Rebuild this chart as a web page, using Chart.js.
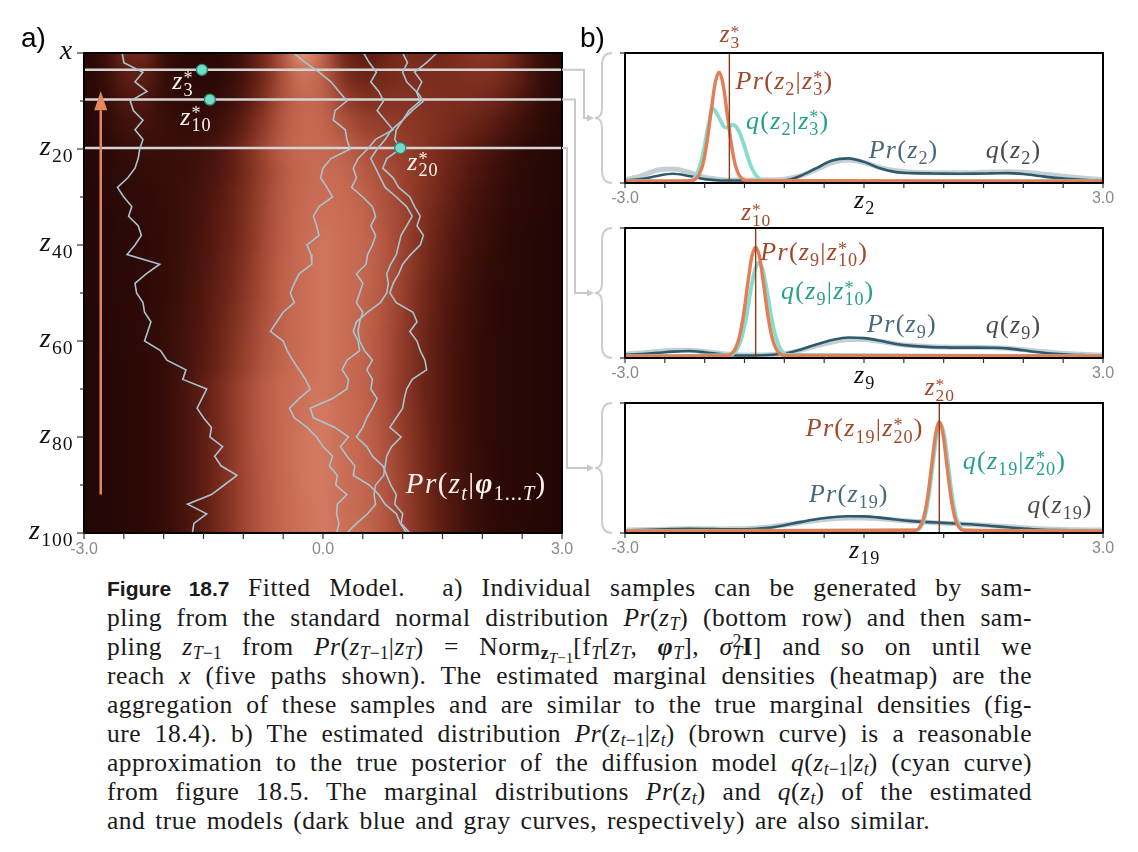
<!DOCTYPE html>
<html>
<head>
<meta charset="utf-8">
<script src="https://cdn.jsdelivr.net/npm/chart.js@4.4.1/dist/chart.umd.min.js"></script>
<style>
  body { margin: 0; background: #fff; }
  #page { position: relative; width: 1138px; height: 852px; overflow: hidden; background: #fff; }
  #page canvas { position: absolute; }
  #links { position: absolute; left: 0; top: 0; pointer-events: none; }
  #caption { position: absolute; left: 107px; top: 573px; width: 925px; font-family: "Liberation Serif", serif;
             font-size: 25.5px; letter-spacing: 0.5px; line-height: 29px; color: #1a1a1a; }
  #caption div { text-align: justify; text-align-last: justify; }
  #caption div.end { text-align-last: left; word-spacing: 3px; }
  #caption sub { font-size: 0.7em; vertical-align: -0.25em; line-height: 0; letter-spacing: 0; }
  #caption sup { font-size: 0.7em; vertical-align: 0.45em; line-height: 0; letter-spacing: 0; }
  #caption sub sub { font-size: 0.85em; }
  #caption sub.under { margin-left: -0.5em; }
  #caption .fig { font-family: "Liberation Sans", sans-serif; font-weight: bold; font-size: 21px; letter-spacing: 0; }
</style>
</head>
<body>
<div id="page">
  <canvas id="heat" width="580" height="570" style="left:0;top:0;width:580px;height:570px"></canvas>
  <canvas id="b1" width="558" height="215" style="left:580px;top:0;width:558px;height:215px"></canvas>
  <canvas id="b2" width="558" height="195" style="left:580px;top:195px;width:558px;height:195px"></canvas>
  <canvas id="b3" width="558" height="200" style="left:580px;top:370px;width:558px;height:200px"></canvas>
  <svg id="links" width="1138" height="570"></svg>
  <div id="caption">
    <div><span class="fig">Figure 18.7</span> Fitted Model.&nbsp; a) Individual samples can be generated by sam-</div>
    <div>pling from the standard normal distribution <i>Pr</i>(<i>z<sub>T</sub></i>) (bottom row) and then sam-</div>
    <div>pling <i>z</i><sub><i>T</i>−1</sub> from <i>Pr</i>(<i>z</i><sub><i>T</i>−1</sub>|<i>z<sub>T</sub></i>) = Norm<sub><b>z</b><sub><i>T</i>−1</sub></sub>[f<sub><i>T</i></sub>[<i>z<sub>T</sub></i>, <b><i>φ</i></b><sub><i>T</i></sub>], <i>σ</i><sup>2</sup><sub class="under"><i>T</i></sub><b>I</b>] and so on until we</div>
    <div>reach <i>x</i> (five paths shown). The estimated marginal densities (heatmap) are the</div>
    <div>aggregation of these samples and are similar to the true marginal densities (fig-</div>
    <div>ure 18.4). b) The estimated distribution <i>Pr</i>(<i>z</i><sub><i>t</i>−1</sub>|<i>z<sub>t</sub></i>) (brown curve) is a reasonable</div>
    <div>approximation to the true posterior of the diffusion model <i>q</i>(<i>z</i><sub><i>t</i>−1</sub>|<i>z<sub>t</sub></i>) (cyan curve)</div>
    <div>from figure 18.5. The marginal distributions <i>Pr</i>(<i>z<sub>t</sub></i>) and <i>q</i>(<i>z<sub>t</sub></i>) of the estimated</div>
    <div class="end">and true models (dark blue and gray curves, respectively) are also similar.</div>
  </div>
</div>
<script>
const SERIF = '"Liberation Serif", "DejaVu Serif", serif';
const SANS = '"Liberation Sans", Arial, sans-serif';

// ---------- panel a: heatmap of Pr(z_t) ----------
const heatX = [-3, -2.75, -2.5, -2.25, -2, -1.75, -1.5, -1.25, -1, -0.75, -0.5, -0.25, 0,
               0.25, 0.5, 0.75, 1, 1.25, 1.5, 1.75, 2, 2.25, 2.5, 2.75, 3];
const heatZ = [0, 5, 10, 15, 20, 25, 30, 35, 40, 45, 50, 55, 60, 65, 70, 75, 80, 85, 90, 95, 100];
const heatRows = [
  [0.06,0.16,0.38,0.40,0.18,0.08,0.07,0.10,0.22,0.40,0.68,0.98,0.78,0.40,0.30,0.36,0.44,0.42,0.40,0.45,0.50,0.46,0.32,0.16,0.06],
  [0.06,0.15,0.32,0.33,0.16,0.08,0.08,0.11,0.22,0.40,0.66,0.90,0.76,0.46,0.36,0.40,0.44,0.44,0.42,0.44,0.46,0.42,0.30,0.15,0.06],
  [0.05,0.13,0.26,0.27,0.15,0.10,0.10,0.14,0.26,0.44,0.68,0.84,0.77,0.56,0.46,0.46,0.47,0.46,0.44,0.43,0.41,0.35,0.25,0.13,0.05],
  [0.05,0.11,0.20,0.22,0.17,0.14,0.15,0.20,0.33,0.51,0.71,0.83,0.80,0.66,0.56,0.53,0.51,0.48,0.44,0.39,0.34,0.27,0.18,0.10,0.05],
  [0.05,0.09,0.15,0.17,0.17,0.17,0.20,0.27,0.40,0.57,0.74,0.84,0.83,0.75,0.65,0.59,0.54,0.48,0.41,0.34,0.27,0.19,0.12,0.07,0.04],
  [0.04,0.08,0.12,0.15,0.16,0.17,0.21,0.28,0.40,0.55,0.71,0.82,0.86,0.82,0.72,0.63,0.56,0.48,0.40,0.31,0.23,0.16,0.10,0.06,0.04],
  [0.04,0.07,0.10,0.13,0.15,0.18,0.23,0.31,0.42,0.57,0.72,0.83,0.88,0.85,0.76,0.66,0.57,0.47,0.38,0.28,0.20,0.14,0.09,0.06,0.04],
  [0.04,0.06,0.09,0.12,0.14,0.18,0.24,0.32,0.43,0.58,0.73,0.84,0.89,0.87,0.79,0.68,0.57,0.45,0.35,0.26,0.18,0.12,0.08,0.05,0.04],
  [0.04,0.06,0.08,0.11,0.14,0.18,0.25,0.33,0.44,0.59,0.74,0.85,0.90,0.88,0.81,0.70,0.57,0.44,0.33,0.24,0.17,0.11,0.07,0.05,0.04],
  [0.04,0.06,0.08,0.11,0.14,0.19,0.26,0.35,0.46,0.61,0.75,0.86,0.90,0.88,0.81,0.70,0.56,0.43,0.32,0.22,0.15,0.10,0.07,0.05,0.04],
  [0.04,0.06,0.08,0.11,0.14,0.19,0.27,0.36,0.48,0.62,0.76,0.86,0.90,0.88,0.80,0.69,0.55,0.41,0.30,0.21,0.14,0.09,0.06,0.05,0.04],
  [0.04,0.05,0.08,0.11,0.15,0.20,0.28,0.38,0.50,0.64,0.77,0.87,0.90,0.87,0.79,0.67,0.53,0.40,0.29,0.20,0.14,0.09,0.06,0.05,0.04],
  [0.04,0.05,0.08,0.11,0.15,0.21,0.29,0.40,0.52,0.66,0.78,0.87,0.90,0.87,0.78,0.66,0.52,0.39,0.28,0.20,0.13,0.09,0.06,0.05,0.04],
  [0.04,0.05,0.07,0.10,0.15,0.21,0.30,0.41,0.54,0.67,0.79,0.88,0.90,0.87,0.78,0.66,0.52,0.39,0.28,0.19,0.13,0.09,0.06,0.05,0.04],
  [0.04,0.05,0.07,0.10,0.15,0.22,0.33,0.45,0.58,0.72,0.83,0.89,0.90,0.86,0.78,0.65,0.51,0.38,0.28,0.19,0.13,0.09,0.06,0.05,0.04],
  [0.04,0.05,0.07,0.10,0.15,0.22,0.32,0.45,0.58,0.72,0.83,0.89,0.91,0.87,0.79,0.66,0.52,0.39,0.28,0.19,0.13,0.09,0.06,0.05,0.04],
  [0.04,0.05,0.07,0.10,0.15,0.22,0.32,0.44,0.58,0.72,0.83,0.90,0.91,0.87,0.79,0.67,0.53,0.40,0.29,0.20,0.13,0.09,0.06,0.05,0.04],
  [0.04,0.05,0.07,0.10,0.15,0.22,0.32,0.44,0.58,0.71,0.83,0.90,0.91,0.88,0.80,0.68,0.54,0.41,0.29,0.20,0.14,0.09,0.06,0.05,0.04],
  [0.04,0.05,0.07,0.10,0.15,0.22,0.32,0.44,0.57,0.71,0.82,0.90,0.91,0.88,0.80,0.69,0.55,0.42,0.30,0.21,0.14,0.09,0.06,0.05,0.04],
  [0.04,0.05,0.07,0.10,0.15,0.22,0.32,0.44,0.57,0.70,0.82,0.89,0.91,0.88,0.81,0.70,0.56,0.43,0.31,0.21,0.14,0.09,0.06,0.05,0.04],
  [0.04,0.05,0.07,0.10,0.15,0.22,0.32,0.44,0.57,0.70,0.81,0.89,0.91,0.89,0.81,0.70,0.57,0.44,0.32,0.22,0.15,0.10,0.07,0.05,0.04]
];

// five sampled paths, x read at every second step
const zPath = [0,2,4,6,8,10,12,14,16,18,20,22,24,26,28,30,32,34,36,38,40,42,44,46,48,50,
               52,54,56,58,60,62,64,66,68,70,72,74,76,78,80,82,84,86,88,90,92,94,96,98,100];
const pathA = [-2.52,-2.50,-2.26,-2.36,-2.21,-2.42,-2.38,-2.26,-2.36,-2.26,-2.30,-2.32,-2.36,-2.45,-2.58,-2.50,-2.40,
               -2.44,-2.32,-2.28,-2.36,-2.46,-2.05,-2.22,-2.36,-2.34,-2.26,-2.24,-2.16,-2.20,-2.24,-2.04,-1.96,-1.72,
               -1.76,-1.46,-1.52,-1.58,-1.50,-1.40,-1.42,-1.26,-1.36,-1.28,-1.08,-1.24,-1.40,-1.70,-1.46,-1.62,-1.64];
const pathB = [-0.37,-0.22,-0.05,0.10,0.20,0.30,0.15,0.13,0.28,0.30,0.34,0.10,0.00,-0.03,0.05,0.12,-0.05,
               -0.12,-0.08,-0.05,-0.20,-0.15,-0.14,-0.30,-0.36,-0.41,-0.36,-0.50,-0.58,-0.66,-0.50,-0.45,-0.38,-0.30,
               -0.22,-0.16,-0.30,-0.42,-0.36,-0.20,-0.08,0.00,0.12,0.08,0.18,0.16,0.30,0.18,0.17,0.20,0.17];
const pathC = [0.51,0.58,0.67,0.60,0.70,0.76,0.68,0.78,0.88,0.66,0.56,0.44,0.38,0.42,0.36,0.50,0.62,
               0.66,0.60,0.66,0.62,0.56,0.54,0.42,0.50,0.46,0.42,0.50,0.46,0.44,0.46,0.52,0.62,0.55,
               0.62,0.60,0.68,0.62,0.55,0.50,0.42,0.55,0.62,0.75,0.80,0.85,0.92,0.90,1.00,0.98,1.09];
const pathD = [1.00,1.06,1.00,1.05,1.17,1.22,1.08,1.00,0.92,0.90,0.97,0.80,0.75,0.88,0.95,1.09,1.15,
               1.22,1.18,1.26,1.22,1.10,1.00,0.95,0.88,0.84,0.92,1.13,1.18,1.09,1.18,1.22,1.28,1.30,
               1.12,1.05,1.02,1.00,0.92,0.84,0.98,0.86,0.80,0.78,0.76,0.66,0.64,0.66,0.56,0.42,0.30];
const pathE = [1.43,1.30,1.15,1.24,1.18,1.26,1.12,1.00,0.86,0.78,0.68,0.60,0.66,0.72,0.78,0.92,1.05,
               1.12,1.05,0.98,0.95,0.92,0.85,0.80,0.82,0.80,0.72,0.56,0.42,0.38,0.44,0.46,0.30,0.24,
               0.32,0.30,0.12,-0.16,-0.12,0.15,0.32,0.22,0.30,0.40,0.38,0.58,0.70,0.78,0.92,0.97,1.05];

// conditioning points z*_3, z*_10, z*_20
const starZ = [3.5, 9.7, 19.8];
const starXA = [-1.52, -1.42, 0.97];

const xTickVals = [-3, -2.5, -2, -1.5, -1, -0.5, 0, 0.5, 1, 1.5, 2, 2.5, 3];
const xTickLabelVals = [-3, 0, 3];
const xTickLabels = ['-3.0', '0.0', '3.0'];
const rowTickVals = [0, 10, 20, 30, 40, 50, 60, 70, 80, 90, 100];
const rowLabelVals = [0, 20, 40, 60, 80, 100];
const rowLabels = ['x', 'z_{20}', 'z_{40}', 'z_{60}', 'z_{80}', 'z_{100}'];

// ---------- panel b: marginals and one-step posteriors ----------
const margX = [-3,-2.8,-2.6,-2.4,-2.2,-2,-1.8,-1.6,-1.4,-1.2,-1,-0.8,-0.6,-0.4,-0.2,0,
               0.2,0.4,0.6,0.8,1,1.2,1.4,1.6,1.8,2,2.2,2.4,2.6,2.8,3];

const prZ2 = [0.005,0.015,0.04,0.057,0.04,0.015,0.005,0.004,0.004,0.004,0.006,0.04,0.10,0.16,0.177,0.15,
              0.10,0.07,0.062,0.06,0.058,0.057,0.058,0.06,0.062,0.055,0.04,0.025,0.015,0.008,0.004];
const qZ2 = [0.01,0.04,0.085,0.095,0.07,0.03,0.012,0.008,0.008,0.01,0.015,0.04,0.09,0.145,0.165,0.145,
             0.105,0.08,0.07,0.066,0.065,0.065,0.066,0.07,0.072,0.068,0.058,0.045,0.032,0.02,0.012];
const postXZ2 = [-3,-2.17,-2.12,-2.07,-2.02,-1.97,-1.92,-1.87,-1.82,-1.77,-1.72,-1.67,-1.62,-1.57,-1.52,-1.47,3];
const postPrZ2 = [0,0.003,0.014,0.05,0.136,0.31,0.54,0.76,0.85,0.76,0.54,0.31,0.136,0.05,0.014,0.003,0];
const postQXZ2 = [-3,-2.2,-2.15,-2.1,-2.05,-2,-1.95,-1.9,-1.85,-1.8,-1.75,-1.7,-1.65,-1.6,-1.55,-1.5,-1.45,-1.4,-1.35,-1.3,-1.25,3];
const postQZ2 = [0,0,0.01,0.05,0.14,0.28,0.45,0.57,0.53,0.47,0.42,0.42,0.44,0.42,0.36,0.27,0.17,0.09,0.04,0.01,0,0];

const prZ9 = [0.01,0.015,0.025,0.035,0.04,0.03,0.015,0.005,0.005,0.008,0.02,0.05,0.09,0.125,0.145,0.14,
              0.12,0.095,0.08,0.072,0.068,0.066,0.066,0.065,0.06,0.045,0.03,0.018,0.01,0.007,0.005];
const qZ9 = [0.015,0.025,0.035,0.045,0.045,0.035,0.02,0.01,0.008,0.01,0.02,0.045,0.08,0.11,0.13,0.13,
             0.115,0.095,0.082,0.075,0.07,0.068,0.068,0.066,0.062,0.05,0.038,0.026,0.018,0.012,0.008];
const postXZ9 = [-3,-1.71,-1.66,-1.61,-1.56,-1.51,-1.46,-1.41,-1.36,-1.31,-1.26,-1.21,-1.16,-1.11,-1.06,-1.01,3];
const postPrZ9 = [0,0.005,0.02,0.065,0.16,0.33,0.56,0.77,0.85,0.77,0.56,0.33,0.16,0.065,0.02,0.005,0];
const postQXZ9 = [-3,-1.67,-1.62,-1.57,-1.52,-1.47,-1.42,-1.37,-1.32,-1.27,-1.22,-1.17,-1.12,-1.07,-1.02,-0.97,3];
const postQZ9 = [0,0.01,0.032,0.083,0.18,0.33,0.52,0.67,0.73,0.67,0.52,0.33,0.18,0.083,0.032,0.01,0];

const prZ19 = [0.005,0.008,0.012,0.015,0.017,0.016,0.014,0.013,0.016,0.025,0.045,0.07,0.092,0.108,0.116,0.115,
               0.105,0.09,0.078,0.07,0.064,0.057,0.05,0.04,0.03,0.02,0.012,0.008,0.006,0.005,0.004];
const qZ19 = [0.008,0.01,0.013,0.016,0.018,0.018,0.017,0.018,0.022,0.032,0.048,0.066,0.083,0.096,0.102,0.102,
              0.096,0.086,0.076,0.068,0.062,0.056,0.05,0.042,0.034,0.026,0.019,0.014,0.011,0.009,0.008];
const postXZ19 = [-3,0.645,0.695,0.745,0.795,0.845,0.895,0.945,0.995,1.045,1.095,1.145,1.195,1.245,3];
const postPrZ19 = [0,0.006,0.027,0.094,0.25,0.49,0.74,0.853,0.74,0.49,0.25,0.094,0.027,0.006,0];
const postQXZ19 = [-3,0.66,0.71,0.76,0.81,0.86,0.91,0.96,1.01,1.06,1.11,1.16,1.21,1.26,3];
const postQZ19 = [0,0.006,0.03,0.1,0.26,0.5,0.74,0.84,0.74,0.5,0.26,0.1,0.03,0.006,0];

const starXB = [-1.69, -1.36, 0.945];

// ---------- little math-text renderer for canvas ----------
function parseMath(src) {
  const atoms = [];
  let i = 0;
  const group = () => {
    if (src[i] === '{') { const j = src.indexOf('}', i); const g = src.slice(i + 1, j); i = j + 1; return g; }
    return src[i++];
  };
  while (i < src.length) {
    const c = src[i];
    if (c === '_' || c === '^') {
      i++;
      const g = group();
      const last = atoms[atoms.length - 1];
      if (c === '_') last.sub = g; else last.sup = g;
    } else { atoms.push({ base: c }); i++; }
  }
  return atoms;
}
function charFont(ch, size) {
  if (ch === 'φ') return `italic bold ${size}px ${SERIF}`;
  if (/[A-Za-z]/.test(ch)) return `italic ${size}px ${SERIF}`;
  return `${size}px ${SERIF}`;
}
// math fonts in the original are wider than Times, so every glyph gets a little extra room
function runWidth(ctx, s, size) {
  let w = 0;
  for (const ch of s) { ctx.font = charFont(ch, size); w += ctx.measureText(ch).width + size * 0.05; }
  return w;
}
function drawRun(ctx, s, x, y, size) {
  for (const ch of s) {
    ctx.font = charFont(ch, size);
    ctx.fillText(ch, x + size * 0.025, y);
    x += ctx.measureText(ch).width + size * 0.05;
  }
}
function drawMath(ctx, src, x, y, size, color, align) {
  const atoms = parseMath(src), s2 = size * 0.7;
  const widths = atoms.map(a => [runWidth(ctx, a.base, size),
    Math.max(a.sub ? runWidth(ctx, a.sub, s2) : 0, a.sup ? runWidth(ctx, a.sup, s2) : 0)]);
  const total = widths.reduce((t, w) => t + w[0] + w[1], 0);
  if (align === 'right') x -= total; else if (align === 'center') x -= total / 2;
  ctx.save();
  ctx.fillStyle = color; ctx.textAlign = 'left'; ctx.textBaseline = 'alphabetic';
  atoms.forEach((a, k) => {
    const [bw, sw] = widths[k];
    drawRun(ctx, a.base, x, y, size);
    x += bw;
    if (a.sup) drawRun(ctx, a.sup, x, y - size * (a.sup === '*' ? 0.2 : 0.38), s2);
    if (a.sub) drawRun(ctx, a.sub, x, y + size * 0.24, s2);
    x += sw;
  });
  ctx.restore();
}

// ---------- heatmap colours ----------
const cmap = [
  [0.00, 30, 5, 3], [0.15, 52, 12, 8], [0.30, 88, 26, 17], [0.45, 128, 47, 31],
  [0.60, 165, 73, 53], [0.75, 190, 98, 75], [0.88, 202, 110, 85], [1.00, 236, 162, 132]
];
function heatColor(v) {
  for (let k = 1; k < cmap.length; k++) {
    if (v <= cmap[k][0]) {
      const a = cmap[k - 1], b = cmap[k], t = (v - a[0]) / (b[0] - a[0]);
      return `rgb(${Math.round(a[1] + t * (b[1] - a[1]))},${Math.round(a[2] + t * (b[2] - a[2]))},${Math.round(a[3] + t * (b[3] - a[3]))})`;
    }
  }
  const c = cmap[cmap.length - 1];
  return `rgb(${c[1]},${c[2]},${c[3]})`;
}
const gradCache = {};
function rowGradient(c) {
  const chart = c.chart, area = chart.chartArea;
  if (!area || c.dataIndex === undefined) return '#2a0805';
  const key = c.dataIndex + ':' + area.left + ':' + area.right;
  if (gradCache[key]) return gradCache[key];
  const xs = chart.scales.x;
  const g = chart.ctx.createLinearGradient(xs.getPixelForValue(-3), 0, xs.getPixelForValue(3), 0);
  heatRows[c.dataIndex].forEach((v, j) => g.addColorStop((heatX[j] + 3) / 6, heatColor(v)));
  gradCache[key] = g;
  return g;
}

// soften the row bands after the heatmap bars are painted
const softenHeat = {
  id: 'softenHeat',
  afterDatasetDraw(chart, args) {
    if (args.meta.type !== 'bar') return;
    const a = chart.chartArea, r = chart.currentDevicePixelRatio || 1, ctx = chart.ctx;
    const sx = Math.round(a.left * r), sy = Math.round(a.top * r);
    const sw = Math.round((a.right - a.left) * r), sh = Math.round((a.bottom - a.top) * r);
    ctx.save();
    ctx.setTransform(1, 0, 0, 1, 0, 0);
    ctx.beginPath(); ctx.rect(sx, sy, sw, sh); ctx.clip();
    ctx.filter = `blur(${7 * r}px)`;
    ctx.drawImage(chart.canvas, sx, sy, sw, sh, sx, sy, sw, sh);
    ctx.restore();
  }
};

const heatDecor = {
  id: 'heatDecor',
  afterDraw(chart) {
    const { ctx, chartArea: a, scales: { x, y } } = chart;
    ctx.save();
    ctx.strokeStyle = '#000'; ctx.lineWidth = 2;
    ctx.strokeRect(a.left, a.top, a.right - a.left, a.bottom - a.top);
    ctx.strokeStyle = '#333'; ctx.lineWidth = 1.2;
    xTickVals.forEach(v => {
      const px = x.getPixelForValue(v);
      ctx.beginPath(); ctx.moveTo(px, a.bottom); ctx.lineTo(px, a.bottom + 6); ctx.stroke();
    });
    rowTickVals.forEach(v => {
      const py = y.getPixelForValue(v), len = v % 20 === 0 ? 7 : 4;
      ctx.beginPath(); ctx.moveTo(a.left, py); ctx.lineTo(a.left - len, py); ctx.stroke();
    });
    ctx.fillStyle = '#8a8a8a'; ctx.font = `16px ${SANS}`; ctx.textAlign = 'center'; ctx.textBaseline = 'middle';
    xTickLabelVals.forEach((v, k) => ctx.fillText(xTickLabels[k], x.getPixelForValue(v), a.bottom + 17));
    rowLabelVals.forEach((v, k) => drawMath(ctx, rowLabels[k], a.left - 11, y.getPixelForValue(v) + 6, 28, '#111', 'right'));

    // upward arrow (sampling direction)
    const ax = x.getPixelForValue(-2.79), y0 = y.getPixelForValue(92), y1 = y.getPixelForValue(11.5), yt = y.getPixelForValue(7.9);
    ctx.strokeStyle = '#e3875c'; ctx.fillStyle = '#e3875c'; ctx.lineWidth = 2.5;
    ctx.beginPath(); ctx.moveTo(ax, y0); ctx.lineTo(ax, y1 + 2); ctx.stroke();
    ctx.beginPath(); ctx.moveTo(ax, yt); ctx.lineTo(ax - 6.5, y1 + 2); ctx.lineTo(ax + 6.5, y1 + 2); ctx.closePath(); ctx.fill();

    // annotations
    const notes = [
      { t: 'z^*_3', x: -1.9, z: 7.6 },
      { t: 'z^*_{10}', x: -1.8, z: 14.9 },
      { t: 'z^*_{20}', x: 1.05, z: 24.4 }
    ];
    notes.forEach(n => drawMath(ctx, n.t, x.getPixelForValue(n.x), y.getPixelForValue(n.z), 26, '#fff4ee', 'left'));
    drawMath(ctx, 'Pr(z_t|φ_{1...T})', x.getPixelForValue(1.03), y.getPixelForValue(91.6), 29, '#fff4ee', 'left');

    ctx.fillStyle = '#000'; ctx.font = `28px ${SANS}`; ctx.textAlign = 'left'; ctx.textBaseline = 'alphabetic';
    ctx.fillText('a)', 21, 47);
    ctx.restore();
  }
};

const pathStyle = { borderColor: '#a9c3cf', borderWidth: 1.6, pointRadius: 0, order: 0, type: 'line' };
const heat = new Chart(document.getElementById('heat'), {
  type: 'bar',
  data: {
    datasets: [
      { data: heatZ.map(z => ({ x: [-3, 3], y: z })), backgroundColor: rowGradient, borderWidth: 0,
        barThickness: 25, order: 2 },
      ...[pathA, pathB, pathC, pathD, pathE].map(p => ({ ...pathStyle, data: zPath.map((z, i) => ({ x: p[i], y: z })) })),
      ...starZ.map(z => ({ type: 'line', data: [{ x: -3, y: z }, { x: 3, y: z }], borderColor: '#d4d4d4',
        borderWidth: 2.6, pointRadius: 0, order: 0 })),
      { type: 'line', showLine: false, data: starZ.map((z, i) => ({ x: starXA[i], y: z })), pointRadius: 5.5,
        pointBackgroundColor: '#74dcc6', pointBorderColor: '#2b8c7c', pointBorderWidth: 1.3, order: -1 }
    ]
  },
  options: {
    indexAxis: 'y', responsive: false, animation: false, events: [],
    layout: { padding: { left: 84, right: 18, top: 53, bottom: 37 } },
    plugins: { legend: { display: false }, tooltip: { enabled: false } },
    scales: {
      x: { type: 'linear', min: -3, max: 3, display: false, offset: false },
      y: { type: 'linear', min: 0, max: 100, reverse: true, display: false, offset: false, ticks: { stepSize: 10 } }
    }
  },
  plugins: [softenHeat, heatDecor]
});

// ---------- panel b charts ----------
const bDecor = {
  id: 'bDecor',
  afterDraw(chart, args, o) {
    const { ctx, chartArea: a, scales: { x, y } } = chart;
    ctx.save();
    ctx.strokeStyle = '#000'; ctx.lineWidth = 2;
    ctx.strokeRect(a.left, a.top, a.right - a.left, a.bottom - a.top);
    ctx.strokeStyle = '#333'; ctx.lineWidth = 1.2;
    xTickVals.forEach(v => {
      const px = x.getPixelForValue(v);
      ctx.beginPath(); ctx.moveTo(px, a.bottom); ctx.lineTo(px, a.bottom + 5); ctx.stroke();
    });
    [a.top, a.bottom].forEach(py => { ctx.beginPath(); ctx.moveTo(a.left, py); ctx.lineTo(a.left - 5, py); ctx.stroke(); });
    ctx.fillStyle = '#8a8a8a'; ctx.font = `16px ${SANS}`; ctx.textAlign = 'center'; ctx.textBaseline = 'middle';
    xTickLabelVals.forEach((v, k) => { if (v !== 0) ctx.fillText(xTickLabels[k], x.getPixelForValue(v), a.bottom + 16); });
    drawMath(ctx, o.axis, x.getPixelForValue(0), a.bottom + 25, 26, '#111', 'center');
    drawMath(ctx, o.star, x.getPixelForValue(o.starX), y.getPixelForValue(o.starY), 25, '#a3472a', 'center');
    o.labels.forEach(l => drawMath(ctx, l.t, x.getPixelForValue(l.x), y.getPixelForValue(l.y), 26, l.c, l.align || 'left'));
    if (o.tag) { ctx.fillStyle = '#000'; ctx.font = `28px ${SANS}`; ctx.textAlign = 'left'; ctx.textBaseline = 'alphabetic'; ctx.fillText(o.tag, 0, 47); }
    ctx.restore();
  }
};

const BROWN = '#a3472a', TEAL = '#25a08d', BLUE = '#48697a', GRAY = '#4a4a4a';
function curve(xs, ys, color, width, order) {
  return { data: xs.map((v, i) => ({ x: v, y: ys[i] })), borderColor: color, borderWidth: width, order,
           pointRadius: 0, cubicInterpolationMode: 'monotone', fill: false };
}
function bChart(id, p) {
  return new Chart(document.getElementById(id), {
    type: 'line',
    data: {
      datasets: [
        curve(margX, p.q, '#c4cfd3', 5, 4),
        curve(margX, p.pr, '#2e5a6b', 2.6, 3),
        curve(p.qPostX, p.qPost, '#86ddcd', 3.8, 2),
        curve(p.prPostX, p.prPost, '#e27d55', 3.4, 1),
        { data: [{ x: p.star, y: -0.02 }, { x: p.star, y: 1 }], borderColor: '#8b3a20', borderWidth: 1.4, pointRadius: 0, order: 0 }
      ]
    },
    options: {
      responsive: false, animation: false, events: [],
      layout: { padding: p.pad },
      plugins: { legend: { display: false }, tooltip: { enabled: false }, bDecor: p.decor },
      scales: {
        x: { type: 'linear', min: -3, max: 3, display: false },
        y: { type: 'linear', min: -0.015, max: 1, display: false }
      }
    },
    plugins: [bDecor]
  });
}

const b1 = bChart('b1', {
  pr: prZ2, q: qZ2, prPostX: postXZ2, prPost: postPrZ2, qPostX: postQXZ2, qPost: postQZ2, star: starXB[0],
  pad: { left: 45, right: 35, top: 53, bottom: 32 },
  decor: { axis: 'z_2', star: 'z^*_3', starX: starXB[0], starY: 1.085, tag: 'b)',
    labels: [
      { t: 'Pr(z_2|z^*_3)', x: -1.62, y: 0.72, c: BROWN },
      { t: 'q(z_2|z^*_3)', x: -1.49, y: 0.41, c: TEAL },
      { t: 'Pr(z_2)', x: 0.05, y: 0.18, c: BLUE },
      { t: 'q(z_2)', x: 1.52, y: 0.18, c: GRAY }
    ] }
});
const b2 = bChart('b2', {
  pr: prZ9, q: qZ9, prPostX: postXZ9, prPost: postPrZ9, qPostX: postQXZ9, qPost: postQZ9, star: starXB[1],
  pad: { left: 45, right: 35, top: 33, bottom: 32 },
  decor: { axis: 'z_9', star: 'z^*_{10}', starX: starXB[1], starY: 1.06,
    labels: [
      { t: 'Pr(z_9|z^*_{10})', x: -1.31, y: 0.75, c: BROWN },
      { t: 'q(z_9|z^*_{10})', x: -1.05, y: 0.445, c: TEAL },
      { t: 'Pr(z_9)', x: 0.03, y: 0.19, c: BLUE },
      { t: 'q(z_9)', x: 1.52, y: 0.18, c: GRAY }
    ] }
});
const b3 = bChart('b3', {
  pr: prZ19, q: qZ19, prPostX: postXZ19, prPost: postPrZ19, qPostX: postQXZ19, qPost: postQZ19, star: starXB[2],
  pad: { left: 45, right: 35, top: 33, bottom: 37 },
  decor: { axis: 'z_{19}', star: 'z^*_{20}', starX: starXB[2], starY: 1.06,
    labels: [
      { t: 'Pr(z_{19}|z^*_{20})', x: 0.74, y: 0.74, c: BROWN, align: 'right' },
      { t: 'q(z_{19}|z^*_{20})', x: 1.23, y: 0.485, c: TEAL },
      { t: 'Pr(z_{19})', x: -0.70, y: 0.23, c: BLUE },
      { t: 'q(z_{19})', x: 2.04, y: 0.14, c: GRAY }
    ] }
});

// ---------- connectors from panel a rows to panel b braces ----------
function drawLinks() {
  const svg = document.getElementById('links');
  const right = heat.chartArea.right;
  const elbowX = [584, 575, 567];
  let out = '';
  [[b1, 0], [b2, 195], [b3, 370]].forEach(([c, top], k) => {
    const a = c.chartArea;
    const t = a.top + top, b = a.bottom + top, m = (t + b) / 2, bx = a.left + 580;
    const y0 = heat.scales.y.getPixelForValue(starZ[k]);
    out += `<path d="M${right} ${y0} H${elbowX[k]} V${m} H${bx - 37}" fill="none" stroke="#c9c9c9" stroke-width="2"/>`;
    out += `<polygon points="${bx - 38},${m - 3.5} ${bx - 31},${m} ${bx - 38},${m + 3.5}" fill="#c9c9c9"/>`;
    out += `<path d="M${bx - 13} ${t} Q${bx - 23} ${t} ${bx - 23} ${t + 12} L${bx - 23} ${m - 10} Q${bx - 23} ${m} ${bx - 30} ${m} ` +
           `Q${bx - 23} ${m} ${bx - 23} ${m + 10} L${bx - 23} ${b - 12} Q${bx - 23} ${b} ${bx - 13} ${b}" fill="none" stroke="#cdcdcd" stroke-width="2"/>`;
  });
  svg.innerHTML = out;
}
drawLinks();
</script>
</body>
</html>
